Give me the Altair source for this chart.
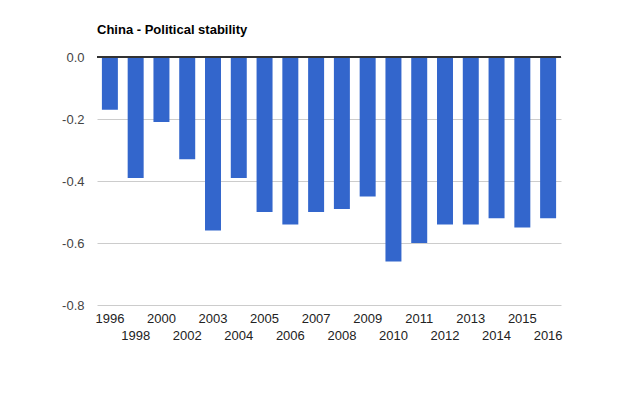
import altair as alt
import pandas as pd

years = ["1996", "1998", "2000", "2002", "2003", "2004", "2005", "2006", "2007",
         "2008", "2009", "2010", "2011", "2012", "2013", "2014", "2015", "2016"]
values = [-0.17, -0.39, -0.21, -0.33, -0.56, -0.39, -0.50, -0.54, -0.50,
          -0.49, -0.45, -0.66, -0.60, -0.54, -0.54, -0.52, -0.55, -0.52]
y_ticks = [0.0, -0.2, -0.4, -0.6, -0.8]
title_text = "China - Political stability"

df = pd.DataFrame({"year": years, "value": values})
second_row = years[1::2]
arr = "[" + ",".join("'" + y + "'" for y in second_row) + "]"
label_expr = f"indexof({arr}, datum.value) >= 0 ? ['', datum.value] : datum.value"
y_label_expr = "(datum.value < -0.001 ? '-' : '') + format(abs(datum.value), '.1f')"

FONT = "Liberation Sans"

bars = alt.Chart(df).mark_bar(color="#3366cc").encode(
    x=alt.X("year:N", sort=years, title=None,
            scale=alt.Scale(paddingInner=0.38, paddingOuter=0.19),
            axis=alt.Axis(labelAngle=0, ticks=False, domain=False,
                          labelExpr=label_expr, labelBaseline="top",
                          labelPadding=7, labelLineHeight=17,
                          labelFont=FONT, labelFontSize=13, labelColor="#222222",
                          labelOverlap=False)),
    y=alt.Y("value:Q", title=None,
            scale=alt.Scale(domain=[-0.8, 0], nice=False),
            axis=alt.Axis(values=y_ticks, labelExpr=y_label_expr, ticks=False, domain=False,
                          labelPadding=13, labelFont=FONT, labelFontSize=13,
                          labelColor="#444444", gridColor="#cccccc"))
)

zero = alt.Chart(df).mark_rule(color="#333333", strokeWidth=1).encode(
    y=alt.datum(0)
)

chart = alt.layer(bars, zero).properties(
    width=464, height=248,
    title=alt.TitleParams(title_text, anchor="start", frame="group", font=FONT, fontSize=13,
                          fontWeight="bold", color="#000000", offset=14),
    padding={"left": 89, "top": 49, "right": 58, "bottom": 50},
    autosize=alt.AutoSizeParams(type="none"),
).configure_view(stroke=None)

chart.save("out.html", embed_options={"renderer": "svg", "actions": False})
